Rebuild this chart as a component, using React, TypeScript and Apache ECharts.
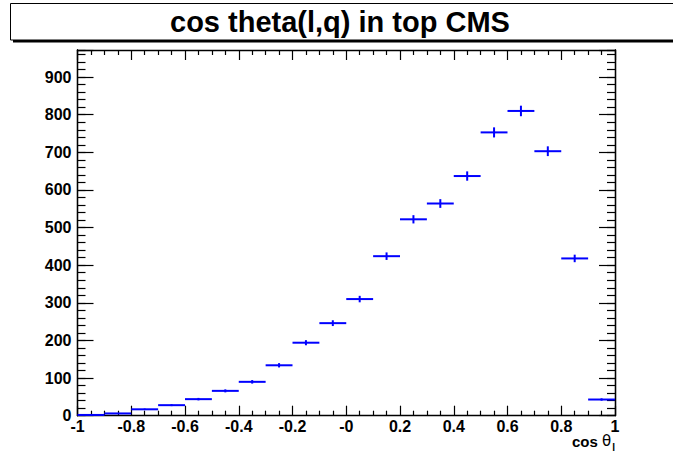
import React, { useEffect, useRef } from "react";
import * as echarts from "echarts";

const binCenters = [-0.95, -0.85, -0.75, -0.65, -0.55, -0.45, -0.35, -0.25, -0.15, -0.05, 0.05, 0.15, 0.25, 0.35, 0.45, 0.55, 0.65, 0.75, 0.85, 0.95];
const binCounts = [2, 6, 17, 28, 44, 66, 90, 134, 194, 246, 310, 424, 522, 564, 637, 753, 810, 703, 418, 43];
const binErrors = [0.7, 1.2, 2, 2.6, 3.3, 4, 4.7, 5.7, 6.8, 7.7, 8.6, 10, 11, 11.6, 12.4, 13.4, 14, 13, 10, 3.2];
const xTickLabels = ["-1", "-0.8", "-0.6", "-0.4", "-0.2", "-0", "0.2", "0.4", "0.6", "0.8", "1"];
const yTickLabels = ["0", "100", "200", "300", "400", "500", "600", "700", "800", "900"];
const titleText = "cos theta(l,q) in top CMS";

const BIN_HALF = 0.05;
const X_MIN = -1, X_MAX = 1, Y_MIN = 0, Y_MAX = 972;
const FONT = "'Liberation Sans', Arial, Helvetica, sans-serif";

export default function App() {
  const ref = useRef<HTMLDivElement>(null);
  useEffect(() => {
    if (!ref.current) return;
    const chart = echarts.init(ref.current, null, { renderer: "svg" });
    const axisLine = { show: true, onZero: false, lineStyle: { color: "#000", width: 1.3 } };
    const tickStyle = { color: "#000", width: 1.2 };
    const xFmt = (v: number) => {
      const i = Math.round((v - X_MIN) / 0.2);
      return Math.abs(X_MIN + i * 0.2 - v) < 1e-6 ? xTickLabels[i] ?? "" : "";
    };
    const yFmt = (v: number) => {
      const i = Math.round(v / 100);
      return Math.abs(i * 100 - v) < 1e-6 ? yTickLabels[i] ?? "" : "";
    };
    const labelStyle = { color: "#000", fontFamily: FONT, fontWeight: "bold" as const, fontSize: 16 };
    const data = binCenters.map((c, i) => [c, binCounts[i], binErrors[i]]);
    chart.setOption({
      animation: false,
      backgroundColor: "#fff",
      grid: { left: 77.5, right: 58, top: 50, bottom: 41.3, containLabel: false },
      xAxis: [
        {
          type: "value", position: "bottom", min: X_MIN, max: X_MAX, interval: 0.2,
          axisLine, splitLine: { show: false },
          axisTick: { show: true, inside: true, length: 10, lineStyle: tickStyle },
          minorTick: { show: true, splitNumber: 4, length: 5, lineStyle: tickStyle },
          axisLabel: { ...labelStyle, margin: 3, formatter: xFmt, showMinLabel: true, showMaxLabel: true },
        },
        {
          type: "value", position: "top", min: X_MIN, max: X_MAX, interval: 0.2,
          axisLine, splitLine: { show: false },
          axisTick: { show: true, inside: true, length: 10, lineStyle: tickStyle },
          minorTick: { show: true, splitNumber: 4, length: 5, lineStyle: tickStyle },
          axisLabel: { show: false },
        },
      ],
      yAxis: [
        {
          type: "value", position: "left", min: Y_MIN, max: Y_MAX, interval: 100,
          axisLine, splitLine: { show: false },
          axisTick: { show: true, inside: true, length: 16, lineStyle: tickStyle },
          axisLabel: { ...labelStyle, margin: 6, formatter: yFmt },
        },
        {
          type: "value", position: "left", min: Y_MIN, max: Y_MAX, interval: 20,
          axisLine, splitLine: { show: false },
          axisTick: { show: true, inside: true, length: 8, lineStyle: tickStyle },
          axisLabel: { show: false },
        },
        {
          type: "value", position: "right", min: Y_MIN, max: Y_MAX, interval: 100,
          axisLine, splitLine: { show: false },
          axisTick: { show: true, inside: true, length: 16, lineStyle: tickStyle },
          axisLabel: { show: false },
        },
        {
          type: "value", position: "right", min: Y_MIN, max: Y_MAX, interval: 20,
          axisLine, splitLine: { show: false },
          axisTick: { show: true, inside: true, length: 8, lineStyle: tickStyle },
          axisLabel: { show: false },
        },
      ],
      graphic: [
        { type: "rect", shape: { x: 13, y: 39.5, width: 700, height: 3 }, style: { fill: "#000" }, silent: true },
        { type: "rect", shape: { x: 10.5, y: 3.5, width: 700, height: 36.5 }, style: { fill: "#fff", stroke: "#000", lineWidth: 1 }, silent: true },
        {
          type: "text", x: 340, y: 22,
          style: { text: titleText, fill: "#000", font: `bold 29px ${FONT}`, align: "center", verticalAlign: "middle" },
          silent: true,
        },
        {
          type: "text", x: 615, y: 441,
          style: {
            text: "{a|cos }{b|θ}{s|l}",
            align: "right", verticalAlign: "middle",
            rich: {
              a: { fontFamily: FONT, fontWeight: "bold", fontSize: 15, color: "#000" },
              b: { fontFamily: "'DejaVu Sans', sans-serif", fontSize: 15, color: "#000" },
              s: { fontFamily: FONT, fontWeight: "bold", fontSize: 10, color: "#000", padding: [12, 0, 0, 1] },
            },
          },
          silent: true,
        },
      ],
      series: [
        {
          type: "custom",
          xAxisIndex: 0, yAxisIndex: 0,
          data,
          renderItem: (params: any, api: any) => {
            const x = api.value(0), y = api.value(1), e = api.value(2);
            const pL = api.coord([x - BIN_HALF, y]);
            const pR = api.coord([x + BIN_HALF, y]);
            const pT = api.coord([x, y + e]);
            const pB = api.coord([x, y - e]);
            const style = { stroke: "#0000ff", lineWidth: 2 };
            return {
              type: "group",
              children: [
                { type: "line", shape: { x1: pL[0], y1: pL[1], x2: pR[0], y2: pR[1] }, style },
                { type: "line", shape: { x1: pT[0], y1: pT[1], x2: pB[0], y2: pB[1] }, style },
              ],
            };
          },
        },
      ],
    });
    return () => chart.dispose();
  }, []);
  return <div ref={ref} style={{ position: "fixed", left: 0, top: 0, width: 673, height: 457 }} />;
}
